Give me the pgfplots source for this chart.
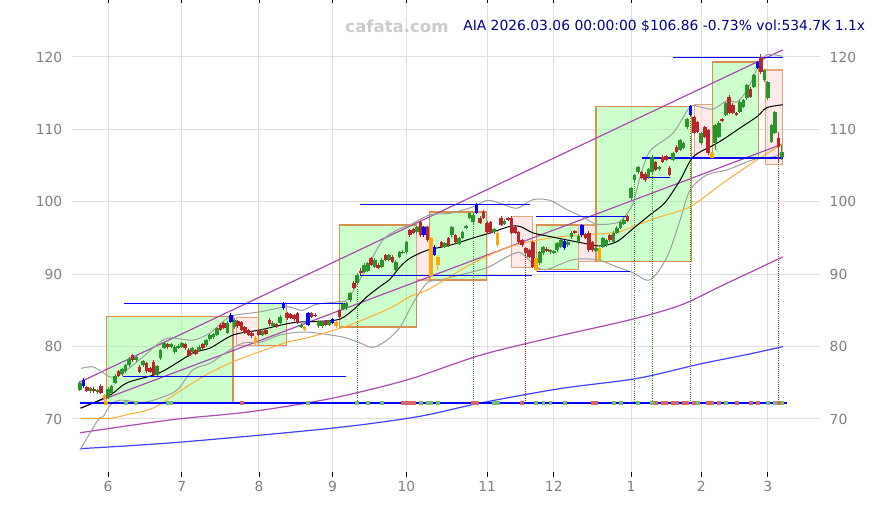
\documentclass[border=0pt]{standalone}
\usepackage{fontspec}
\setmainfont{DejaVu Sans}
\usepackage{pgfplots}
\usepackage{pgfplotstable}
\pgfplotsset{compat=1.18}
\definecolor{cgreen}{rgb}{0.16,0.58,0.16}
\definecolor{cred}{rgb}{0.72,0.15,0.16}
\definecolor{cblue}{rgb}{0,0,1}
\definecolor{corange}{rgb}{1,0.65,0}
\definecolor{gridgray}{rgb}{0.87,0.87,0.87}
\definecolor{labelgray}{rgb}{0.5,0.5,0.5}
\definecolor{titleblue}{rgb}{0,0,0.55}
\definecolor{wmgray}{rgb}{0.8,0.8,0.8}
\definecolor{boxgreen}{rgb}{0.6,1,0.6}
\definecolor{boxpink}{rgb}{1,0.84,0.84}
\definecolor{boxedge}{rgb}{0.86,0.56,0.3}
\definecolor{pinkedge}{rgb}{0.88,0.65,0.5}
\definecolor{cpurple}{rgb}{0.66,0.3,0.68}
\definecolor{cblueline}{rgb}{0.25,0.25,1}
\definecolor{maorange}{rgb}{1,0.68,0.2}
\definecolor{bandgray}{rgb}{0.62,0.62,0.62}
\definecolor{vgreen}{rgb}{0.45,0.75,0.45}
\definecolor{vred}{rgb}{0.85,0.4,0.4}

\pgfplotstableread{
i o h l c k
-8 74.0 75.2 73.8 75.0 0
-7 74.6 75.6 74.3 75.4 2
-6 74.4 74.6 73.7 73.9 1
-5 73.8 74.4 73.6 74.3 0
-4 74.2 74.4 73.6 73.8 1
-3 73.7 74.2 73.5 74.0 0
-2 74.6 74.8 73.4 73.6 1
-1 73.3 73.5 72.4 72.8 3
0 73.0 74.4 72.8 74.2 0
1 73.6 74.7 73.4 74.5 0
2 75.0 76.2 74.8 76.0 0
3 76.6 76.8 75.8 76.0 1
4 76.2 77.1 76.0 76.9 0
5 76.6 77.6 76.4 77.4 0
6 77.4 78.5 77.2 78.3 0
7 78.8 79.0 77.9 78.1 1
8 78.1 78.7 77.9 78.5 0
9 77.2 77.4 76.3 76.5 1
10 77.4 78.2 77.2 78.0 0
11 77.7 77.9 76.4 76.6 1
12 77.0 77.2 76.3 76.5 1
13 77.9 78.1 75.9 76.1 1
14 76.1 77.5 75.9 77.3 0
15 78.4 79.7 78.2 79.5 0
16 79.8 80.7 79.6 80.5 0
17 80.3 80.5 79.7 79.9 1
18 80.0 80.5 79.8 80.3 0
19 79.2 80.2 79.0 80.0 0
20 79.8 80.3 79.6 80.1 0
21 80.0 80.7 79.8 80.5 0
22 80.3 80.5 79.6 79.8 1
23 79.6 79.8 78.5 78.7 1
24 79.2 80.0 79.0 79.8 0
25 79.5 79.7 78.8 79.0 1
26 79.5 80.2 79.3 80.0 0
27 80.3 80.5 79.6 79.8 1
28 80.2 81.1 80.0 80.9 0
29 81.0 81.8 80.8 81.6 0
30 81.3 81.9 81.1 81.7 0
31 81.6 82.7 81.4 82.5 0
32 83.0 83.2 82.1 82.3 1
33 83.2 83.4 82.4 82.6 1
34 81.9 83.5 81.7 83.3 0
35 83.4 84.6 83.2 84.4 2
36 82.7 83.9 82.5 83.7 0
37 83.5 83.7 82.6 82.8 1
38 83.4 83.6 82.1 82.3 1
39 82.7 82.9 81.7 81.9 1
40 82.3 82.5 81.4 81.6 1
41 81.9 82.1 81.2 81.4 1
42 81.2 81.4 80.2 80.5 3
43 82.3 82.5 81.4 81.6 1
44 81.6 82.4 81.4 82.2 0
45 82.3 82.5 81.6 81.8 1
46 83.7 83.9 82.9 83.1 1
47 82.8 83.5 82.6 83.3 0
48 83.1 83.3 82.5 82.7 1
49 83.3 84.3 83.1 84.1 0
50 85.3 86.1 85.1 85.9 2
51 84.6 84.8 83.7 83.9 1
52 84.5 84.7 83.8 84.0 1
53 84.3 84.5 83.6 83.8 1
54 84.6 84.8 83.1 83.3 1
55 82.8 83.2 82.6 83.0 0
56 82.7 82.9 82.2 82.3 3
57 83.0 84.8 82.8 84.6 2
58 84.6 84.8 83.9 84.1 1
59 84.4 84.6 84.1 84.3 1
60 82.8 83.7 82.6 83.5 0
61 82.8 83.6 82.6 83.4 0
62 83.5 83.7 82.8 83.0 1
63 83.0 83.7 82.8 83.5 0
64 83.3 84.0 83.1 83.8 2
65 83.4 83.6 82.6 82.8 3
66 85.0 85.2 83.9 84.1 1
67 85.2 86.0 85.0 85.9 0
68 85.3 86.2 85.1 86.0 0
69 86.4 87.6 86.2 87.4 0
70 88.8 89.0 87.9 88.1 1
71 88.8 90.1 88.6 89.9 0
72 90.5 90.8 89.9 90.1 1
73 90.3 91.5 90.1 91.3 0
74 90.5 91.7 90.3 91.5 0
75 92.2 92.4 91.1 91.3 1
76 91.0 92.2 90.8 92.0 0
77 91.3 91.5 90.7 90.9 1
78 91.0 92.2 90.8 92.0 0
79 92.6 92.8 91.8 92.0 1
80 92.0 92.8 91.8 92.6 0
81 92.4 92.6 91.5 91.7 1
82 90.6 91.9 90.4 91.7 0
83 92.4 93.2 92.2 93.0 0
84 93.0 93.4 92.8 93.1 0
85 93.0 94.6 92.8 94.4 0
86 96.1 96.3 95.2 95.4 1
87 96.2 96.4 95.5 95.7 1
88 95.8 96.7 95.6 96.5 0
89 97.2 97.4 95.2 95.4 1
90 95.4 96.7 95.2 96.5 2
91 96.5 96.7 94.5 94.7 1
92 95.0 95.2 89.2 89.7 3
93 92.7 94.0 92.5 93.8 2
94 91.3 92.6 90.6 92.4 3
95 94.4 94.6 93.6 93.8 1
96 93.8 94.5 93.6 94.3 0
97 95.0 95.2 93.8 94.0 1
98 95.4 96.7 95.2 96.5 0
99 95.4 95.6 94.2 94.4 1
100 94.2 95.2 94.0 95.0 0
101 95.0 95.9 94.8 95.8 0
102 96.4 96.8 96.2 96.6 0
103 97.8 98.6 97.6 98.4 0
104 97.2 98.4 97.0 98.2 0
105 98.5 99.8 98.3 99.6 2
106 97.8 98.0 96.9 97.1 1
107 98.6 98.8 97.6 97.8 1
108 97.1 97.3 95.6 95.8 1
109 97.2 97.4 95.5 95.7 1
110 95.8 96.4 95.6 96.2 0
111 95.7 95.9 93.8 94.0 3
112 97.8 98.0 96.6 96.8 1
113 97.0 97.6 96.8 97.4 0
114 97.8 97.9 97.4 97.5 1
115 97.8 98.0 95.5 95.7 1
116 96.5 96.7 95.5 95.7 1
117 95.8 96.0 94.2 94.4 1
118 94.7 94.9 93.8 94.0 1
119 93.6 93.8 92.7 92.9 1
120 93.3 93.5 92.2 92.4 1
121 94.4 94.6 90.8 91.0 1
122 92.2 92.4 90.3 90.6 3
123 91.5 93.2 91.3 93.0 0
124 92.9 93.9 92.7 93.8 0
125 93.5 93.7 93.0 93.2 1
126 93.0 93.5 92.8 93.3 0
127 93.0 93.4 92.8 93.2 0
128 93.3 94.4 93.1 94.3 0
129 93.8 94.8 93.6 94.7 0
130 93.6 94.8 93.4 94.6 2
131 94.0 94.6 93.8 94.4 0
132 95.1 95.9 94.9 95.7 0
133 95.9 96.1 95.5 95.7 1
134 94.4 95.5 94.2 95.3 0
135 95.4 97.0 95.2 96.8 2
136 95.5 95.7 94.8 95.0 1
137 95.7 95.9 93.1 93.3 1
138 94.4 94.6 93.1 93.3 1
139 93.2 93.8 93.0 93.6 0
140 92.0 93.8 91.7 93.6 3
141 93.8 95.2 93.6 95.0 0
142 94.0 94.9 93.8 94.7 0
143 95.4 95.6 94.5 94.7 1
144 94.4 95.9 94.2 95.7 0
145 95.7 96.6 95.5 96.4 0
146 96.4 97.4 96.2 97.2 0
147 97.0 97.7 96.8 97.5 0
148 98.0 98.2 97.2 97.4 1
149 100.5 102.1 100.3 101.9 0
150 103.0 103.9 102.8 103.7 0
151 104.1 105.0 103.9 104.8 0
152 104.1 104.3 103.1 103.3 1
153 103.9 104.1 102.8 103.0 1
154 103.4 104.7 103.2 104.5 0
155 104.1 106.4 103.9 106.2 0
156 105.5 105.7 104.2 104.4 1
157 104.5 105.0 104.3 104.8 0
158 106.2 106.4 105.3 105.5 1
159 106.3 106.5 105.6 105.8 1
160 104.7 104.9 103.5 103.7 1
161 105.8 106.9 105.6 106.7 0
162 107.6 107.8 106.7 106.9 1
163 107.2 108.7 107.0 108.5 0
164 107.5 108.3 107.3 108.1 0
165 110.3 111.6 110.1 111.4 0
166 112.0 113.4 111.8 113.2 2
167 111.7 111.9 109.3 109.5 1
168 111.0 111.2 109.5 109.7 1
169 108.1 109.7 107.9 109.5 0
170 110.3 110.5 108.8 109.0 1
171 109.9 110.1 106.5 106.7 1
172 106.7 106.9 106.0 106.1 3
173 108.1 110.8 107.2 110.6 0
174 109.0 111.1 108.8 110.9 0
175 111.4 111.6 111.0 111.2 1
176 112.0 113.8 111.8 113.6 0
177 114.5 114.7 112.1 112.3 1
178 113.4 113.6 112.1 112.3 1
179 112.2 112.4 111.8 112.0 1
180 112.4 114.0 112.2 113.8 0
181 113.1 114.2 112.9 114.0 0
182 114.3 116.3 114.1 116.1 0
183 115.6 115.8 114.3 114.5 1
184 115.9 117.7 115.7 117.5 0
185 118.5 119.5 118.3 119.3 2
186 120.0 120.4 117.7 117.9 1
187 116.8 118.4 116.6 118.2 0
188 114.3 116.7 114.1 116.5 0
189 108.3 110.8 108.1 110.6 0
190 109.5 112.6 109.3 112.4 0
191 108.8 109.6 105.5 107.6 1
192 106.2 107.9 105.8 106.9 0
}\candles

\pgfplotstableread{
i v
-7.7 71.5
0.6 73.3
5.4 75.0
14.8 76.4
24.2 79.1
29.1 79.8
35.6 81.6
43.3 82.3
52.7 83.3
60.4 83.5
66.1 83.8
70.4 85.3
73.8 86.9
77.5 88.3
80.3 89.3
83.2 91.0
86.0 92.2
90.9 93.3
97.4 94.0
104.0 95.0
108.8 95.7
114.5 96.6
117.4 96.6
121.1 95.7
125.9 95.2
135.3 94.3
140.2 93.9
145.0 94.5
149.6 96.3
154.4 98.2
158.7 99.9
163.0 103.0
166.7 106.2
172.4 107.8
175.2 108.6
180.1 110.2
185.0 111.8
187.7 113.0
192.3 113.4
}\maA

\pgfplotstableread{
i v
-7.7 70.1
0.6 70.1
5.4 70.6
12.8 71.5
19.7 73.6
24.2 75.0
29.1 76.4
35.6 77.9
43.3 79.3
51.0 80.6
57.5 81.3
69.0 83.0
80.3 85.3
86.0 86.9
91.7 88.0
103.1 91.3
114.5 93.8
125.9 95.0
135.3 95.4
145.0 95.8
149.6 96.6
156.4 97.8
165.8 99.3
175.2 102.6
184.9 105.8
192.3 108.0
}\maB

\pgfplotstableread{
i v
-7.7 77.0
-4.3 77.2
-1.4 76.4
0.6 75.8
3.4 76.1
10.0 78.6
14.8 80.6
17.7 81.2
24.2 80.9
29.1 81.9
33.9 83.9
36.8 84.4
43.3 84.8
51.0 85.5
55.3 85.0
59.0 85.8
65.5 86.2
68.4 86.6
73.8 91.0
78.3 94.7
82.3 96.1
86.0 96.8
91.7 98.2
97.4 98.4
104.0 99.3
108.0 100.2
111.7 99.8
116.5 99.1
121.1 100.3
125.9 100.2
130.8 98.9
135.3 97.9
139.3 96.9
145.0 97.1
147.3 98.0
149.6 99.8
151.6 103.4
154.4 107.0
161.0 109.5
165.8 113.1
168.7 113.1
172.4 112.8
176.4 114.0
179.2 113.8
182.0 115.4
185.2 118.6
187.7 120.3
192.0 120.1
}\bandU

\pgfplotstableread{
i v
-8.0 65.7
-2.8 69.9
-1.4 70.3
0.6 71.9
3.4 72.6
10.0 72.3
14.8 72.9
19.7 74.0
24.2 76.8
29.1 77.7
33.9 79.3
38.5 80.5
43.3 80.6
49.0 81.6
54.7 82.0
59.0 81.9
67.0 81.3
71.8 80.5
75.5 79.9
79.5 80.9
83.2 82.7
86.9 86.0
90.9 88.8
94.6 89.2
100.3 89.9
108.0 90.9
113.7 92.4
117.4 93.0
121.0 91.5
124.5 90.6
132.5 92.0
139.3 92.0
145.0 91.0
149.6 90.2
154.4 89.2
159.3 92.4
163.0 97.5
165.8 101.6
170.6 103.7
176.4 104.4
183.7 105.8
189.5 106.2
192.0 106.7
}\bandL

\pgfplotstableread{
i v
-8.0 68.1
18.2 69.9
40.5 71.0
63.2 72.8
85.2 75.4
106.0 78.8
126.0 81.2
148.7 83.7
163.0 85.7
174.4 88.3
192.3 92.4
}\maC

\pgfplotstableread{
i v
-8.0 65.9
20.5 66.8
63.2 68.7
88.0 70.3
106.0 72.2
128.8 74.2
150.7 75.6
168.7 77.6
183.0 79.0
192.3 80.0
}\maD

\pgfplotstableread{
i v
5 72.2
8 72.2
17 72.2
18 72.2
57 72.2
71 72.2
74 72.2
78 72.2
89 72.2
91 72.2
92 72.2
94 72.2
110 72.2
111 72.2
122 72.2
124 72.2
126 72.2
130 72.2
144 72.2
146 72.2
151 72.2
155 72.2
168 72.2
176 72.2
188 72.2
190 72.2
192 72.2
}\volG

\pgfplotstableread{
i v
38 72.2
84 72.2
85 72.2
86 72.2
87 72.2
104 72.2
105 72.2
118 72.2
138 72.2
139 72.2
156 72.2
158 72.2
159 72.2
161 72.2
162 72.2
164 72.2
165 72.2
167 72.2
171 72.2
172 72.2
174 72.2
179 72.2
183 72.2
185 72.2
191 72.2
}\volR

\pgfplotsset{
  candlewick/.style 2 args={draw=none, mark=none, forget plot,
    restrict expr to domain={\thisrow{k}}{#1:#1},
    error bars/.cd, y dir=both, y explicit, error mark=none,
    error bar style={draw=#2, line width=0.75pt, solid}},
  candlebody/.style 2 args={draw=none, mark=none, forget plot,
    restrict expr to domain={\thisrow{k}}{#1:#1},
    error bars/.cd, y dir=both, y explicit, error mark=none,
    error bar style={draw=#2, line width=2.7pt, solid}},
}

\begin{document}
\begin{tikzpicture}
\path[use as bounding box] (0pt,0pt) rectangle (654.75pt,378.75pt);
\begin{axis}[
  at={(54pt,24.75pt)}, anchor=south west,
  scale only axis, width=561pt, height=351.75pt,
  xmin=-10.26, xmax=202.85, ymin=62.68, ymax=127.46,
  axis line style={draw=none},
  xtick={0,21,43,64,85,108,127,149,169,188},
  xticklabels={6,7,8,9,10,11,12,1,2,3},
  ytick={70,80,90,100,110,120},
  grid=major, grid style={draw=gridgray, line width=0.75pt},
  tick align=outside, major tick length=3.75pt,
  xtick style={draw=black, line width=0.6pt},
  ytick style={draw=none},
  ticklabel style={font=\fontsize{10.4}{12}\selectfont, text=labelgray},
  /pgf/number format/assume math mode=true,
]
% boxes
\addplot[fill=boxgreen, fill opacity=0.5, draw=boxedge, line width=0.9pt] coordinates {(-0.43,72.2) (35.6,72.2) (35.6,84.2) (-0.43,84.2)} --cycle;
\addplot[fill=boxpink, fill opacity=0.5, draw=pinkedge, line width=0.9pt] coordinates {(36.7,80.2) (42.8,80.2) (42.8,84.05) (36.7,84.05)} --cycle;
\addplot[fill=boxgreen, fill opacity=0.5, draw=boxedge, line width=0.9pt] coordinates {(42.8,80.2) (50.9,80.2) (50.9,85.9) (42.8,85.9)} --cycle;
\addplot[fill=boxgreen, fill opacity=0.5, draw=boxedge, line width=0.9pt] coordinates {(65.9,82.7) (87.9,82.7) (87.9,96.8) (65.9,96.8)} --cycle;
\addplot[fill=boxpink, fill opacity=0.5, draw=pinkedge, line width=0.9pt] coordinates {(87.9,89.2) (91.7,89.2) (91.7,96.6) (87.9,96.6)} --cycle;
\addplot[fill=boxgreen, fill opacity=0.5, draw=boxedge, line width=0.9pt] coordinates {(91.7,89.2) (107.9,89.2) (107.9,98.6) (91.7,98.6)} --cycle;
\addplot[fill=boxpink, fill opacity=0.5, draw=pinkedge, line width=0.9pt] coordinates {(115,90.9) (121,90.9) (121,97.95) (115,97.95)} --cycle;
\addplot[fill=boxgreen, fill opacity=0.5, draw=boxedge, line width=0.9pt] coordinates {(122.1,90.6) (134,90.6) (134,96.8) (122.1,96.8)} --cycle;
\addplot[fill=boxpink, fill opacity=0.5, draw=pinkedge, line width=0.9pt] coordinates {(134,91.7) (139.2,91.7) (139.2,96.8) (134,96.8)} --cycle;
\addplot[fill=boxgreen, fill opacity=0.5, draw=boxedge, line width=0.9pt] coordinates {(139,91.7) (166.3,91.7) (166.3,113.2) (139,113.2)} --cycle;
\addplot[fill=boxpink, fill opacity=0.5, draw=pinkedge, line width=0.9pt] coordinates {(167,106.0) (172.3,106.0) (172.3,113.4) (167,113.4)} --cycle;
\addplot[fill=boxgreen, fill opacity=0.5, draw=boxedge, line width=0.9pt] coordinates {(172.2,106.0) (185.3,106.0) (185.3,119.3) (172.2,119.3)} --cycle;
\addplot[fill=boxpink, fill opacity=0.5, draw=pinkedge, line width=0.9pt] coordinates {(187.4,105.2) (192.1,105.2) (192.1,118.2) (187.4,118.2)} --cycle;
% channel lines
\addplot[cpurple, line width=0.9pt] coordinates {(-8,75.1) (192.3,121.0)};
\addplot[cpurple, line width=0.9pt] coordinates {(-8,71.5) (192.3,108.0)};
\addplot[cpurple, line width=0.9pt, smooth] table[x=i,y=v] {\maC};
\addplot[cblueline, line width=0.9pt, smooth] table[x=i,y=v] {\maD};
% bands and averages
\addplot[bandgray, line width=0.75pt, smooth, tension=0.5] table[x=i,y=v] {\bandU};
\addplot[bandgray, line width=0.75pt, smooth, tension=0.5] table[x=i,y=v] {\bandL};
\addplot[maorange, line width=0.75pt, smooth] table[x=i,y=v] {\maB};
\addplot[black, line width=0.75pt, smooth, tension=0.5] table[x=i,y=v] {\maA};
% horizontal levels
\addplot[cblue, line width=0.9pt] coordinates {(4.6,85.9) (68.1,85.9)};
\addplot[cblue, line width=0.9pt] coordinates {(4.3,75.9) (67.8,75.9)};
\addplot[cblue, line width=0.9pt] coordinates {(71.8,99.6) (120.2,99.6)};
\addplot[cblue, line width=0.9pt] coordinates {(71.8,89.8) (120.8,89.8)};
\addplot[cblue, line width=0.9pt] coordinates {(121.9,98.0) (148.1,98.0)};
\addplot[cblue, line width=0.9pt] coordinates {(122.2,90.4) (148.7,90.4)};
\addplot[cblue, line width=0.9pt] coordinates {(152.1,106.05) (192.3,106.05)};
\addplot[cblue, line width=0.9pt] coordinates {(152.4,103.4) (160.1,103.4)};
\addplot[cblue, line width=0.9pt] coordinates {(161,119.9) (192.3,119.9)};
% dotted verticals
\addplot[cgreen, densely dotted, line width=0.6pt] coordinates {(71,88.6) (71,72.2)};
\addplot[cgreen, densely dotted, line width=0.6pt] coordinates {(104,97.0) (104,72.2)};
\addplot[cred, densely dotted, line width=0.6pt] coordinates {(119,92.7) (119,72.2)};
\addplot[cgreen, densely dotted, line width=0.6pt] coordinates {(150,102.8) (150,72.2)};
\addplot[cgreen, densely dotted, line width=0.6pt] coordinates {(155,103.9) (155,72.2)};
\addplot[cgreen, densely dotted, line width=0.6pt] coordinates {(166,111.8) (166,72.2)};
\addplot[cred, densely dotted, line width=0.6pt] coordinates {(191,105.5) (191,72.2)};
% candles
\addplot[candlewick={0}{cgreen}] table[x=i, y expr={(\thisrow{h}+\thisrow{l})/2}, y error expr={(\thisrow{h}-\thisrow{l})/2}] {\candles};
\addplot[candlewick={1}{cred}] table[x=i, y expr={(\thisrow{h}+\thisrow{l})/2}, y error expr={(\thisrow{h}-\thisrow{l})/2}] {\candles};
\addplot[candlewick={2}{cblue}] table[x=i, y expr={(\thisrow{h}+\thisrow{l})/2}, y error expr={(\thisrow{h}-\thisrow{l})/2}] {\candles};
\addplot[candlewick={3}{corange}] table[x=i, y expr={(\thisrow{h}+\thisrow{l})/2}, y error expr={(\thisrow{h}-\thisrow{l})/2}] {\candles};
\addplot[candlebody={0}{cgreen}] table[x=i, y expr={(\thisrow{o}+\thisrow{c})/2}, y error expr={max(abs(\thisrow{o}-\thisrow{c})/2,0.07)}] {\candles};
\addplot[candlebody={1}{cred}] table[x=i, y expr={(\thisrow{o}+\thisrow{c})/2}, y error expr={max(abs(\thisrow{o}-\thisrow{c})/2,0.07)}] {\candles};
\addplot[candlebody={2}{cblue}] table[x=i, y expr={(\thisrow{o}+\thisrow{c})/2}, y error expr={max(abs(\thisrow{o}-\thisrow{c})/2,0.07)}] {\candles};
\addplot[candlebody={3}{corange}] table[x=i, y expr={(\thisrow{o}+\thisrow{c})/2}, y error expr={max(abs(\thisrow{o}-\thisrow{c})/2,0.07)}] {\candles};
% base line and volume markers
\addplot[cblue, line width=1.9pt] coordinates {(-8,72.2) (193.4,72.2)};
\addplot[only marks, mark=square*, mark size=1.1pt, color=vgreen] table[x=i,y=v] {\volG};
\addplot[only marks, mark=square*, mark size=1.1pt, color=vred] table[x=i,y=v] {\volR};
\addplot[only marks, mark=square*, mark size=1.1pt, color=corange] coordinates {(-0.6,72.2)};
\end{axis}
\begin{axis}[
  at={(54pt,24.75pt)}, anchor=south west,
  scale only axis, width=561pt, height=351.75pt,
  xmin=-10.26, xmax=202.85, ymin=62.68, ymax=127.46,
  axis line style={draw=none},
  xtick=\empty,
  ytick={70,80,90,100,110,120},
  ytick pos=right, yticklabel pos=right,
  tick align=outside, major tick length=3.75pt,
  ytick style={draw=none},
  ticklabel style={font=\fontsize{10.4}{12}\selectfont, text=labelgray},
  /pgf/number format/assume math mode=true,
]
\end{axis}
\node[anchor=center, text=wmgray, font=\fontsize{12.4}{14}\selectfont\bfseries] at (297.75pt,359.25pt) {cafata.com};
\node[anchor=base west, inner sep=0pt, text=titleblue, font=\fontsize{10.4}{12}\selectfont] at (347.25pt,355.5pt) {AIA 2026.03.06 00:00:00 \$106.86 -0.73\% vol:534.7K 1.1x};
\end{tikzpicture}
\end{document}
